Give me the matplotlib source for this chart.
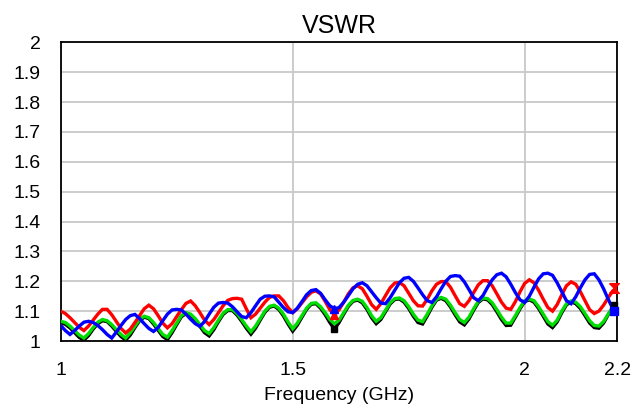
import numpy as np
import matplotlib
matplotlib.use("Agg")
import matplotlib.pyplot as plt
from matplotlib.transforms import offset_copy

freq = np.round(np.arange(1.0, 2.2001, 0.01), 2)

red = [1.100, 1.092, 1.078, 1.062, 1.046, 1.035, 1.050, 1.070, 1.090, 1.106,
       1.106, 1.088, 1.065, 1.042, 1.027, 1.040, 1.062, 1.085, 1.108, 1.120,
       1.108, 1.085, 1.060, 1.044, 1.058, 1.082, 1.105, 1.126, 1.134, 1.118,
       1.095, 1.070, 1.055, 1.072, 1.095, 1.118, 1.136, 1.142, 1.143, 1.140,
       1.108, 1.078, 1.090, 1.110, 1.130, 1.146, 1.151, 1.151, 1.135, 1.112,
       1.095, 1.108, 1.128, 1.148, 1.163, 1.168, 1.158, 1.133, 1.105, 1.088,
       1.105, 1.130, 1.158, 1.178, 1.185, 1.175, 1.150, 1.122, 1.106, 1.125,
       1.152, 1.178, 1.194, 1.196, 1.185, 1.160, 1.135, 1.118, 1.117, 1.140,
       1.168, 1.190, 1.199, 1.199, 1.180, 1.152, 1.125, 1.116, 1.135, 1.162,
       1.188, 1.202, 1.202, 1.185, 1.158, 1.130, 1.110, 1.106, 1.132, 1.165,
       1.193, 1.205, 1.195, 1.170, 1.140, 1.112, 1.100, 1.122, 1.155, 1.185,
       1.198, 1.190, 1.165, 1.135, 1.105, 1.092, 1.100, 1.120, 1.145, 1.168,
       1.178]

green = [1.066, 1.062, 1.050, 1.035, 1.020, 1.010, 1.025, 1.045, 1.063, 1.072,
         1.068, 1.055, 1.038, 1.022, 1.010, 1.028, 1.050, 1.072, 1.083, 1.078,
         1.062, 1.042, 1.022, 1.013, 1.035, 1.060, 1.085, 1.095, 1.090, 1.075,
         1.055, 1.035, 1.025, 1.045, 1.070, 1.093, 1.105, 1.105, 1.092, 1.072,
         1.050, 1.031, 1.050, 1.075, 1.100, 1.116, 1.120, 1.110, 1.090, 1.064,
         1.041, 1.060, 1.085, 1.110, 1.126, 1.128, 1.115, 1.095, 1.072, 1.058,
         1.070, 1.095, 1.120, 1.136, 1.140, 1.133, 1.112, 1.085, 1.066, 1.078,
         1.103, 1.128, 1.142, 1.144, 1.135, 1.115, 1.090, 1.070, 1.065, 1.090,
         1.118, 1.140, 1.146, 1.140, 1.120, 1.095, 1.072, 1.062, 1.080, 1.108,
         1.133, 1.144, 1.142, 1.128, 1.105, 1.080, 1.060, 1.060, 1.085, 1.112,
         1.135, 1.141, 1.135, 1.115, 1.090, 1.065, 1.053, 1.070, 1.100, 1.125,
         1.134, 1.130, 1.115, 1.092, 1.068, 1.052, 1.050, 1.065, 1.090, 1.112,
         1.120]

black = [1.060, 1.056, 1.044, 1.028, 1.012, 1.003, 1.018, 1.040, 1.058, 1.068,
         1.065, 1.050, 1.032, 1.015, 1.003, 1.020, 1.045, 1.068, 1.080, 1.075,
         1.057, 1.036, 1.015, 1.005, 1.028, 1.055, 1.081, 1.092, 1.087, 1.070,
         1.049, 1.028, 1.017, 1.038, 1.065, 1.089, 1.102, 1.102, 1.087, 1.066,
         1.043, 1.023, 1.043, 1.070, 1.096, 1.113, 1.117, 1.106, 1.084, 1.057,
         1.033, 1.053, 1.080, 1.106, 1.123, 1.125, 1.110, 1.088, 1.062, 1.040,
         1.062, 1.090, 1.116, 1.133, 1.137, 1.128, 1.106, 1.078, 1.058, 1.072,
         1.098, 1.124, 1.139, 1.141, 1.130, 1.109, 1.083, 1.062, 1.057, 1.084,
         1.113, 1.137, 1.143, 1.135, 1.114, 1.088, 1.064, 1.054, 1.074, 1.103,
         1.129, 1.141, 1.138, 1.122, 1.098, 1.072, 1.052, 1.053, 1.080, 1.108,
         1.132, 1.138, 1.130, 1.109, 1.083, 1.057, 1.045, 1.064, 1.095, 1.121,
         1.131, 1.125, 1.109, 1.085, 1.060, 1.045, 1.043, 1.060, 1.088, 1.112,
         1.122]

blue = [1.052, 1.035, 1.022, 1.035, 1.050, 1.063, 1.066, 1.062, 1.052, 1.038,
        1.022, 1.010, 1.030, 1.052, 1.072, 1.085, 1.089, 1.075, 1.058, 1.042,
        1.032, 1.045, 1.068, 1.090, 1.104, 1.106, 1.104, 1.090, 1.073, 1.058,
        1.049, 1.065, 1.090, 1.113, 1.127, 1.129, 1.127, 1.115, 1.098, 1.082,
        1.078, 1.095, 1.118, 1.140, 1.150, 1.151, 1.148, 1.130, 1.112, 1.098,
        1.095, 1.110, 1.132, 1.155, 1.169, 1.172, 1.160, 1.138, 1.118, 1.108,
        1.112, 1.130, 1.152, 1.175, 1.190, 1.195, 1.185, 1.165, 1.145, 1.127,
        1.125, 1.145, 1.170, 1.195, 1.210, 1.213, 1.200, 1.178, 1.155, 1.135,
        1.129, 1.148, 1.175, 1.200, 1.216, 1.219, 1.217, 1.198, 1.172, 1.145,
        1.135, 1.152, 1.180, 1.205, 1.222, 1.227, 1.215, 1.190, 1.162, 1.138,
        1.129, 1.150, 1.180, 1.208, 1.225, 1.227, 1.220, 1.195, 1.165, 1.135,
        1.125, 1.148, 1.178, 1.205, 1.223, 1.225, 1.205, 1.175, 1.140, 1.108,
        1.100]

yticks = [1, 1.1, 1.2, 1.3, 1.4, 1.5, 1.6, 1.7, 1.8, 1.9, 2]
ytick_labels = ["1", "1.1", "1.2", "1.3", "1.4", "1.5", "1.6", "1.7", "1.8", "1.9", "2"]
xticks = [1, 1.5, 2, 2.2]
xtick_labels = ["1", "1.5", "2", "2.2"]
marker_freq = 1.59

plt.rcParams['font.family'] = ['Liberation Sans', 'DejaVu Sans']

fig = plt.figure(figsize=(6.41, 4.12), dpi=100)
ax = fig.add_axes([0.0947, 0.1723, 0.9633 - 0.0947, 0.8973 - 0.1723])

lw = 2.4
ax.plot(freq, black, color='black', lw=lw, solid_joinstyle='miter', zorder=3)
ax.plot(freq, green, color='#00dd00', lw=lw, solid_joinstyle='miter', zorder=4)
ax.plot(freq, red, color='#ff0000', lw=lw, solid_joinstyle='miter', zorder=5)
ax.plot(freq, blue, color='#0000ff', lw=lw, solid_joinstyle='miter', zorder=6)

mi = int(np.argmin(np.abs(freq - marker_freq)))
ax.plot(freq[mi], black[mi], 's', color='black', ms=4.5, zorder=7)
ax.plot(freq[mi], red[mi], '^', color='#ff0000', ms=6, zorder=7)
ax.plot(freq[mi], blue[mi], '^', color='#0000ff', ms=6, zorder=7)

hourglass = [(-1, 1), (1, 1), (-1, -1), (1, -1), (-1, 1)]
tr = offset_copy(ax.transData, fig=fig, x=-3.5, y=0, units='dots')
ax.plot(freq[-1], black[-1], 's', color='black', ms=4, transform=tr, clip_on=False, zorder=7)
ax.plot(freq[-1], blue[-1], 's', color='#0000ff', ms=5.5, transform=tr, clip_on=False, zorder=7)
ax.plot(freq[-1], red[-1], marker=hourglass, color='#ff0000', ms=7, transform=tr, clip_on=False, zorder=7)

ax.set_xlim(1, 2.2)
ax.set_ylim(1, 2)
ax.set_xticks(xticks)
ax.set_xticklabels(xtick_labels)
ax.set_yticks(yticks)
ax.set_yticklabels(ytick_labels)
ax.tick_params(axis='both', length=0, labelsize=14, colors='black')
ax.tick_params(axis='x', pad=15)
ax.tick_params(axis='y', pad=14.5)
ax.grid(True, color='#c8c8c8', lw=1.3, zorder=0)
ax.set_axisbelow(True)
for s in ax.spines.values():
    s.set_color('black')
    s.set_linewidth(1.3)

ax.set_title("VSWR", fontsize=18, pad=7)
ax.set_xlabel("Frequency (GHz)", fontsize=14, labelpad=6)

fig.savefig("out.png", dpi=100)
